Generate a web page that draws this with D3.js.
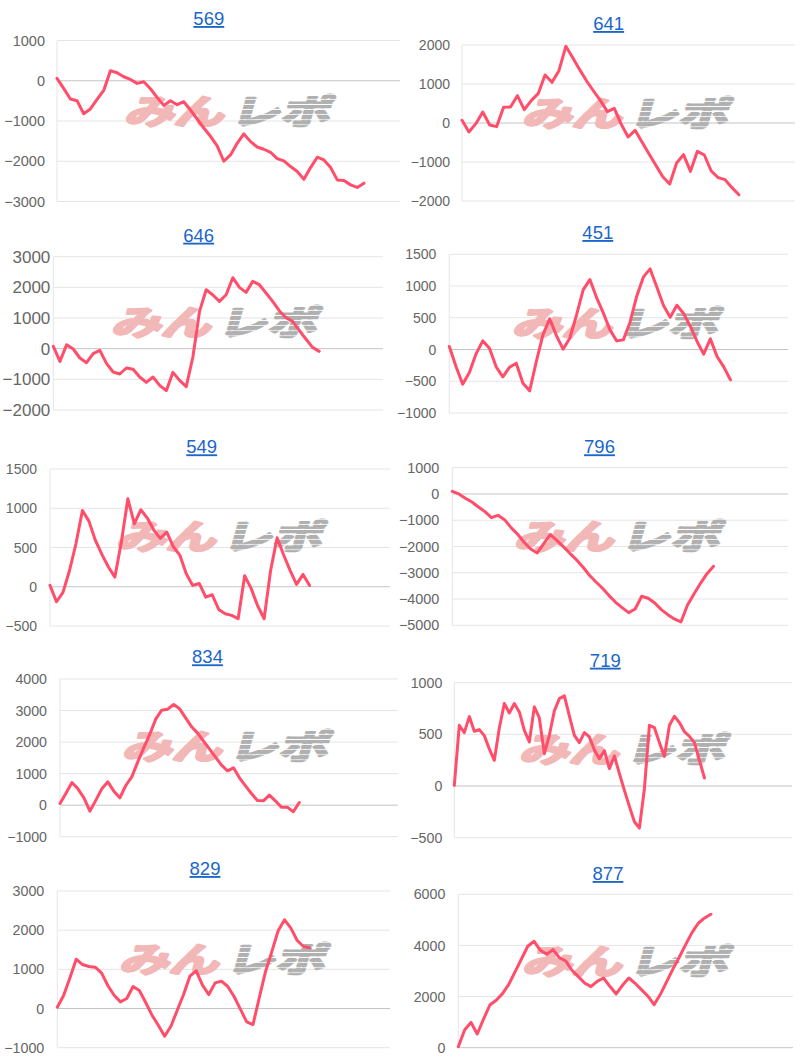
<!DOCTYPE html>
<html><head><meta charset="utf-8">
<script src="https://cdn.jsdelivr.net/npm/d3@7"></script>
<style>body{margin:0;background:#fff;}svg{display:block;}</style>
</head><body>
<svg id="c" width="800" height="1062"></svg>
<script>
// ---------- data ----------
const titles = ["569","641","646","451","549","796","834","719","829","877"];
const yMins = [-3000,-2000,-2000,-1000,-500,-5000,-1000,-500,-1000,0];
const yMaxs = [1000,2000,3000,1500,1500,1000,4000,1000,3000,6000];
const yTickSteps = [1000,1000,1000,500,500,1000,1000,500,1000,2000];
const xSlots = [51.4,48.1,49.6,50.6,52.4,51.4,56.5,67.5,52.7,53];

const s569 = [60,-190,-455,-495,-820,-700,-463,-240,250,198,99,33,-66,-25,-198,-413,-612,-496,-595,-521,-727,-950,-1174,-1380,-1620,-2000,-1843,-1554,-1320,-1512,-1645,-1702,-1777,-1934,-1992,-2132,-2256,-2450,-2157,-1900,-1967,-2157,-2463,-2479,-2587,-2650,-2545];
const s641 = [68,-231,-17,282,-51,-94,402,410,701,342,573,752,1231,1043,1342,1966,1675,1368,1077,821,573,291,376,-34,-359,-188,-487,-786,-1085,-1376,-1564,-1026,-812,-1239,-726,-821,-1231,-1402,-1453,-1658,-1838];
const s646 = [76,-413,130,-11,-304,-457,-163,-54,-478,-761,-826,-630,-674,-924,-1098,-924,-1196,-1370,-772,-1033,-1239,-272,1217,1924,1750,1543,1761,2315,2000,1837,2196,2087,1815,1543,1239,1011,891,598,315,43,-87];
const s451 = [47,-268,-546,-362,-68,136,21,-273,-430,-278,-215,-530,-651,-189,236,483,220,5,178,540,939,1102,819,577,310,136,152,430,840,1144,1270,986,693,509,698,567,367,131,-73,168,-110,-273,-477];
const s549 = [17,-191,-72,204,548,972,836,590,412,251,123,569,1121,802,981,875,722,616,696,510,403,166,17,42,-132,-102,-289,-344,-365,-408,140,-21,-242,-408,208,624,408,208,30,157,17];
const s796 = [102,0,-165,-305,-495,-673,-901,-812,-977,-1282,-1535,-1840,-2094,-2246,-1891,-1548,-1764,-2005,-2259,-2500,-2779,-3096,-3350,-3591,-3870,-4124,-4327,-4517,-4378,-3896,-3972,-4150,-4403,-4594,-4759,-4873,-4238,-3807,-3401,-3033,-2754];
const s834 = [53,381,719,518,233,-190,159,518,740,444,233,624,898,1374,1818,2241,2727,3012,3044,3192,3055,2769,2484,2283,2029,1776,1522,1268,1089,1184,867,613,370,148,138,317,138,-63,-63,-211,85];
const s719 = [6,588,517,672,530,546,488,359,249,562,798,707,798,717,539,426,766,659,313,491,727,846,872,678,491,420,517,475,349,265,342,168,291,120,-42,-197,-346,-407,-26,588,565,420,287,588,675,614,526,481,420,249,78];
const s829 = [34,332,783,1259,1123,1072,1055,911,587,340,170,255,562,460,153,-170,-426,-706,-451,-43,357,825,962,596,357,655,698,562,306,-17,-340,-408,281,953,1464,1991,2264,2051,1736,1583,1549];
const s877 = [39,692,992,535,1122,1670,1853,2114,2480,2975,3471,3967,4163,3811,3654,3837,3524,3393,3028,2780,2532,2388,2597,2727,2401,2101,2440,2727,2519,2271,2023,1683,2088,2584,3080,3550,4032,4502,4868,5076,5220];
const series = [s569,s641,s646,s451,s549,s796,s834,s719,s829,s877];

// ---------- layout (pixels) ----------
const layout = [
  {l:57,  r:400, t:40.5,  b:201.5, tx:208.8, ty:25,    wx:230, wy:110, fs:14.5, gap:12},
  {l:462, r:795, t:45,    b:201,   tx:608.7, ty:30,    wx:628, wy:112, fs:14,   gap:12},
  {l:53.3,r:383, t:256.7, b:410,   tx:198.7, ty:241.7, wx:217, wy:321, fs:17,   gap:3},
  {l:449.3,r:788,t:254.3, b:413,   tx:597.8, ty:239,   wx:618, wy:322, fs:14,   gap:13},
  {l:50,  r:390, t:469,   b:626,   tx:201.7, ty:453.3, wx:222, wy:535, fs:14,   gap:13},
  {l:452.3,r:788,t:467.7, b:625.3, tx:599.5, ty:453.3, wx:620, wy:535, fs:14.4, gap:13},
  {l:60,  r:398, t:679,   b:836.7, tx:207.5, ty:663.3, wx:228, wy:745, fs:14.2, gap:13},
  {l:454.3,r:792,t:682.7, b:837.7, tx:605.3, ty:666.7, wx:625, wy:748, fs:14.2, gap:12},
  {l:57.3,r:390, t:891,   b:1047.7,tx:205,   ty:875,   wx:225, wy:958, fs:14.3, gap:13},
  {l:458.3,r:793,t:894.3, b:1047.7,tx:608,   ty:880,   wx:628, wy:960, fs:14.2, gap:13}
];

const svg = d3.select("#c");
const defs = svg.append("defs");
const pat = defs.append("pattern").attr("id","stripes").attr("patternUnits","userSpaceOnUse")
  .attr("width",20).attr("height",6);
pat.append("rect").attr("width",20).attr("height",4.8).attr("fill","#b0b0b0");

const FONT = "'Liberation Sans', Arial, Helvetica, sans-serif";
const JPFONT = "'Noto Sans CJK JP', 'Noto Sans CJK SC', sans-serif";

function watermark(g, cx, cy){
  const w = g.append("g").attr("transform",`translate(${cx},${cy})`);
  w.append("text").text("みん")
    .attr("transform","skewX(-16) scale(1.25,0.85)")
    .attr("x",-2).attr("y",16).attr("text-anchor","end")
    .attr("font-family",JPFONT).attr("font-weight",700)
    .attr("font-size",40).attr("fill","#f2b7b7")
    .attr("stroke","#f2b7b7").attr("stroke-width",3).attr("stroke-linejoin","round");
  w.append("text").text("レポ")
    .attr("transform","skewX(-16) scale(1.25,0.85)")
    .attr("x",3).attr("y",16).attr("text-anchor","start")
    .attr("font-family",JPFONT).attr("font-weight",700)
    .attr("font-size",40).attr("fill","url(#stripes)")
    .attr("stroke","url(#stripes)").attr("stroke-width",3).attr("stroke-linejoin","round");
}

series.forEach((data, i) => {
  const L = layout[i];
  const g = svg.append("g");
  const x = d3.scaleLinear().domain([0, xSlots[i]]).range([L.l, L.r]);
  const y = d3.scaleLinear().domain([yMins[i], yMaxs[i]]).range([L.b, L.t]);
  const ticks = d3.range(yMins[i], yMaxs[i] + 1, yTickSteps[i]);

  g.selectAll("line.grid").data(ticks).join("line")
    .attr("x1", L.l).attr("x2", L.r)
    .attr("y1", d => y(d)).attr("y2", d => y(d))
    .attr("stroke", d => d === 0 ? "#c4c4c4" : "#e5e5e5").attr("stroke-width", 1);
  g.append("line").attr("x1", L.l).attr("x2", L.l).attr("y1", L.t).attr("y2", L.b)
    .attr("stroke", "#e5e5e5");

  g.selectAll("text.tick").data(ticks).join("text")
    .attr("x", L.l - L.gap).attr("y", d => y(d)).attr("dy", "0.36em")
    .attr("text-anchor", "end").attr("font-family", FONT).attr("font-size", L.fs)
    .attr("fill", "#666").text(d => d3.format("d")(d));

  watermark(g, L.wx, L.wy);

  const line = d3.line().x((d, k) => x(k)).y(d => y(d));
  g.append("path").datum(data).attr("d", line)
    .attr("fill", "none").attr("stroke", "#ff4d6a").attr("stroke-width", 3)
    .attr("stroke-linejoin", "round").attr("stroke-linecap", "round");

  g.append("text").attr("x", L.tx).attr("y", L.ty).attr("text-anchor", "middle")
    .attr("font-family", FONT).attr("font-size", 18.5).attr("fill", "#1a66c9")
    .attr("text-decoration", "underline").text(titles[i]);
});
</script>
</body></html>
